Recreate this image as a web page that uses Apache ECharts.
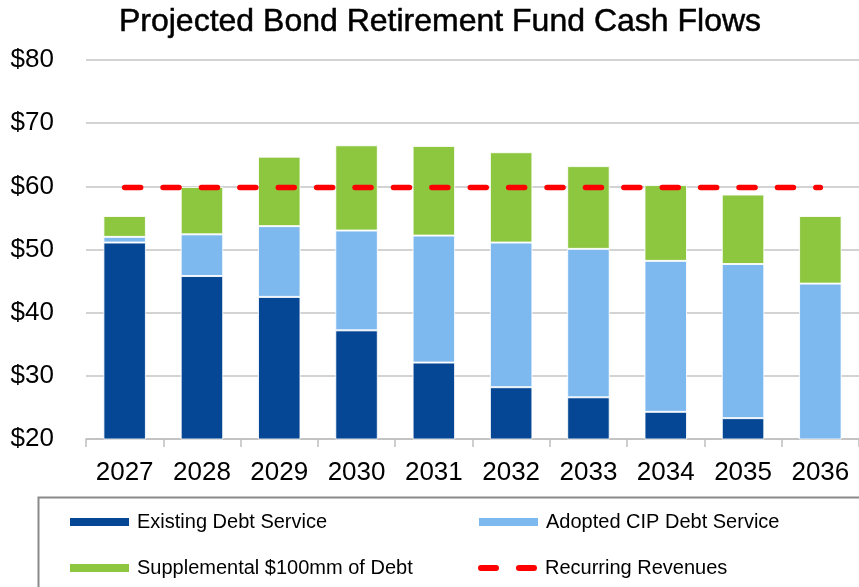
<!DOCTYPE html>
<html>
<head>
<meta charset="utf-8">
<script src="https://cdn.jsdelivr.net/npm/echarts@6/dist/echarts.min.js"></script>
<style>
html,body{margin:0;padding:0;background:#fff;}
#chart{width:859px;height:587px;}
</style>
</head>
<body>
<div id="chart"></div>
<script>
var categories = ['2027','2028','2029','2030','2031','2032','2033','2034','2035','2036'];
var existingDebt = [51.1, 45.8, 42.5, 37.2, 32.1, 28.2, 26.6, 24.3, 23.3, 0];
var adoptedCIP = [0.9, 6.6, 11.2, 15.8, 20.1, 22.9, 23.5, 23.9, 24.4, 44.6];
var supplemental = [3.3, 7.5, 11.0, 13.5, 14.2, 14.3, 13.1, 12.0, 11.0, 10.7];
var recurringRevenues = [59.8, 59.8, 59.8, 59.8, 59.8, 59.8, 59.8, 59.8, 59.8, 59.8];
var yTicks = {min: 20, max: 80, interval: 10};

var FONT = 'Liberation Sans';
var chart = echarts.init(document.getElementById('chart'), null, {renderer: 'canvas'});
var barBorder = {borderColor: 'rgba(255,255,255,0.85)', borderWidth: 1};
var dashIcon = 'path://M3,0 L18,0 A3,3 0 0 1 18,6 L3,6 A3,3 0 0 1 3,0 Z M41,0 L56,0 A3,3 0 0 1 56,6 L41,6 A3,3 0 0 1 41,0 Z';

function legendItem(name, left, top, h, icon) {
  return {
    orient: 'vertical', left: left, top: top, padding: 0,
    itemWidth: 59, itemHeight: h,
    data: [{name: name, icon: icon || 'rect'}],
    itemStyle: {borderWidth: 0},
    textStyle: {fontFamily: FONT, fontSize: 20, color: '#000', padding: [0,0,0,3], lineHeight: 20}
  };
}

chart.setOption({
  animation: false,
  backgroundColor: '#fff',
  textStyle: {fontFamily: FONT},
  title: {
    text: 'Projected Bond Retirement Fund Cash Flows',
    left: 440, top: 6, textAlign: 'center', padding: 0,
    textStyle: {fontFamily: FONT, fontSize: 32, fontWeight: 'normal', color: '#000',
      textBorderColor: '#000', textBorderWidth: 0.5}
  },
  grid: {left: 86, top: 60, width: 777, height: 379, containLabel: false},
  xAxis: {
    type: 'category', data: categories,
    axisLine: {lineStyle: {color: '#bfbfbf', width: 1.5}},
    axisTick: {show: true, length: 8, lineStyle: {color: '#bfbfbf', width: 1.5}},
    axisLabel: {fontFamily: FONT, fontSize: 26, color: '#000', margin: 21}
  },
  yAxis: {
    type: 'value', min: yTicks.min, max: yTicks.max, interval: yTicks.interval,
    axisLine: {show: false}, axisTick: {show: false},
    splitLine: {lineStyle: {color: '#c4c4c4', width: 1.5}},
    axisLabel: {fontFamily: FONT, fontSize: 26, color: '#000', margin: 32,
      formatter: function (v) { return '$' + v; }}
  },
  legend: [
    legendItem('Existing Debt Service', 70, 512, 8),
    legendItem('Supplemental $100mm of Debt', 70, 558, 8),
    legendItem('Adopted CIP Debt Service', 479, 512, 8),
    legendItem('Recurring Revenues', 478, 558, 6, dashIcon)
  ],
  graphic: [{
    type: 'rect', silent: true, z: -1,
    shape: {x: 38.5, y: 497.5, width: 900, height: 200},
    style: {fill: 'none', stroke: '#8a8a8a', lineWidth: 2}
  }],
  series: [
    {name: 'Existing Debt Service', type: 'bar', stack: 'total', barWidth: '55%',
      data: existingDebt, itemStyle: Object.assign({color: '#054794'}, barBorder)},
    {name: 'Adopted CIP Debt Service', type: 'bar', stack: 'total', barWidth: '55%',
      data: adoptedCIP, itemStyle: Object.assign({color: '#7db8ee'}, barBorder)},
    {name: 'Supplemental $100mm of Debt', type: 'bar', stack: 'total', barWidth: '55%',
      data: supplemental, itemStyle: Object.assign({color: '#8dc63f'}, barBorder)},
    {name: 'Recurring Revenues', type: 'line', data: recurringRevenues, symbol: 'none', z: 5,
      itemStyle: {color: '#ff0000'},
      lineStyle: {color: '#ff0000', width: 5.5, type: [16, 22.4], cap: 'round'}}
  ]
});
</script>
</body>
</html>
